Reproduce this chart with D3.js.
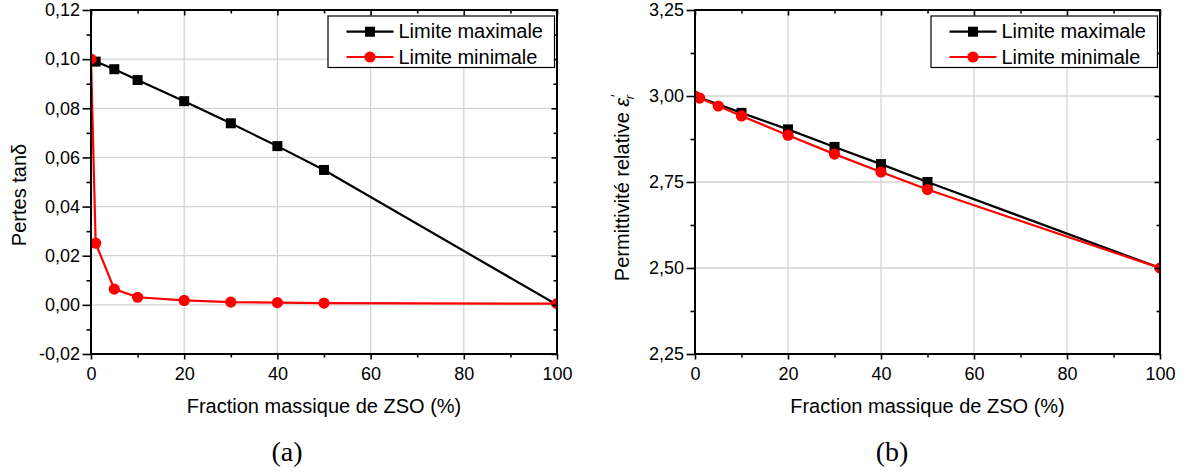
<!DOCTYPE html>
<html>
<head>
<meta charset="utf-8">
<script src="https://cdn.jsdelivr.net/npm/d3@7"></script>
<style>
  html, body { margin: 0; padding: 0; background: #fff; }
  svg { display: block; }
  text { font-family: "Liberation Sans", Arial, sans-serif; fill: #000; }
</style>
</head>
<body>
<svg id="chart" width="1188" height="473"></svg>
<script>
// ---- data ----
const xFrac = [0, 1, 5, 10, 20, 30, 40, 50, 100];
const tanMax = [0.100, 0.099, 0.0959, 0.0915, 0.0829, 0.0739, 0.0646, 0.0549, 0.000];
const tanMin = [0.100, 0.0251, 0.0064, 0.0031, 0.0018, 0.0011, 0.0009, 0.0007, 0.0005];
const epsMax = [3.000, 2.995, 2.976, 2.951, 2.903, 2.852, 2.802, 2.750, 2.500];
const epsMin = [3.000, 2.994, 2.971, 2.942, 2.886, 2.831, 2.779, 2.728, 2.500];

const xTicks = [0, 20, 40, 60, 80, 100];
const xMinor = [10, 30, 50, 70, 90];
const tanTicks = [-0.02, 0.00, 0.02, 0.04, 0.06, 0.08, 0.10, 0.12];
const tanMinor = [-0.01, 0.01, 0.03, 0.05, 0.07, 0.09, 0.11];
const epsTicks = [2.25, 2.50, 2.75, 3.00, 3.25];
const epsMinor = [2.375, 2.625, 2.875, 3.125];

const seriesNames = ["Limite maximale", "Limite minimale"];
const seriesColors = ["#000000", "#ff0000"];
const xTitle = "Fraction massique de ZSO (%)";
const panelLabels = ["(a)", "(b)"];

const fr = d3.formatLocale({decimal: ",", thousands: " ", grouping: [3], currency: ["", ""], minus: "-"});
const fmt2 = fr.format(".2f");

const svg = d3.select("#chart");

function drawPanel(opt) {
  const {left, right, top, bottom} = opt;
  const x = d3.scaleLinear().domain([0, 100]).range([left, right]);
  const y = d3.scaleLinear().domain(opt.yDomain).range([bottom, top]);
  const g = svg.append("g");

  // grid
  g.append("g").selectAll("line").data(xTicks.filter(v => v > 0 && v < 100)).join("line")
    .attr("x1", d => x(d)).attr("x2", d => x(d)).attr("y1", top).attr("y2", bottom)
    .attr("stroke", "#d4d4d4").attr("stroke-width", 1.3);
  g.append("g").selectAll("line").data(opt.yTicks.filter(v => v > opt.yDomain[0] + 1e-9 && v < opt.yDomain[1] - 1e-9)).join("line")
    .attr("y1", d => y(d)).attr("y2", d => y(d)).attr("x1", left).attr("x2", right)
    .attr("stroke", "#d4d4d4").attr("stroke-width", 1.3);

  // clip
  const cid = "clip" + opt.id;
  svg.append("clipPath").attr("id", cid).append("rect")
    .attr("x", left).attr("y", top).attr("width", right - left).attr("height", bottom - top);
  const plot = g.append("g").attr("clip-path", `url(#${cid})`);

  const line = d3.line().x((d, i) => x(xFrac[i])).y(d => y(d));

  // max series (black squares); markers hidden where the red point sits on top
  const maxPts = opt.maxVals.map((v, i) => ({x: xFrac[i], v, hidden: Math.abs(y(v) - y(opt.minVals[i])) < 2.5}));
  plot.append("path").datum(opt.maxVals).attr("d", line)
    .attr("fill", "none").attr("stroke", seriesColors[0]).attr("stroke-width", 2.2);
  plot.append("g").selectAll("rect").data(maxPts.filter(p => !p.hidden)).join("rect")
    .attr("x", p => x(p.x) - 5).attr("y", p => y(p.v) - 5)
    .attr("width", 10).attr("height", 10).attr("fill", seriesColors[0]);

  // min series (red circles)
  plot.append("path").datum(opt.minVals).attr("d", line)
    .attr("fill", "none").attr("stroke", seriesColors[1]).attr("stroke-width", 2.2);
  plot.append("g").selectAll("circle").data(opt.minVals).join("circle")
    .attr("cx", (d, i) => x(xFrac[i])).attr("cy", d => y(d))
    .attr("r", 5.6).attr("fill", seriesColors[1]);

  // axes
  const style = sel => { sel.select(".domain").remove(); sel.selectAll("line").attr("stroke-width", 1.6); };
  g.append("g").attr("transform", `translate(0,${bottom})`)
    .call(d3.axisBottom(x).tickValues(xTicks).tickSize(5.5).tickPadding(8).tickFormat(d3.format("d")))
    .call(style).selectAll("text").attr("font-size", 18).attr("font-family", "Liberation Sans, Arial, sans-serif");
  g.append("g").attr("transform", `translate(0,${bottom})`)
    .call(d3.axisBottom(x).tickValues(xMinor).tickSize(3.5).tickFormat(""))
    .call(style);
  g.append("g").attr("transform", `translate(0,${top})`)
    .call(d3.axisTop(x).tickValues(xTicks).tickSize(-5.5).tickFormat(""))
    .call(style);
  g.append("g").attr("transform", `translate(0,${top})`)
    .call(d3.axisTop(x).tickValues(xMinor).tickSize(-3.5).tickFormat(""))
    .call(style);

  g.append("g").attr("transform", `translate(${left},0)`)
    .call(d3.axisLeft(y).tickValues(opt.yTicks).tickSize(8.5).tickPadding(2.5).tickFormat(fmt2))
    .call(style).selectAll("text").attr("font-size", 18).attr("font-family", "Liberation Sans, Arial, sans-serif");
  g.append("g").attr("transform", `translate(${left},0)`)
    .call(d3.axisLeft(y).tickValues(opt.yMinor).tickSize(4.5).tickFormat(""))
    .call(style);
  g.append("g").attr("transform", `translate(${right},0)`)
    .call(d3.axisRight(y).tickValues(opt.yTicks).tickSize(-5.5).tickFormat(""))
    .call(style);
  g.append("g").attr("transform", `translate(${right},0)`)
    .call(d3.axisRight(y).tickValues(opt.yMinor).tickSize(-3.5).tickFormat(""))
    .call(style);

  // frame
  g.append("rect").attr("x", left).attr("y", top).attr("width", right - left).attr("height", bottom - top)
    .attr("fill", "none").attr("stroke", "#000").attr("stroke-width", 2);

  // x title
  g.append("text").attr("x", (left + right) / 2).attr("y", 413)
    .attr("text-anchor", "middle").attr("font-size", 20).text(xTitle);

  // y title
  const yt = g.append("text")
    .attr("transform", `translate(${opt.yTitleX},${opt.yTitleY}) rotate(-90)`)
    .attr("text-anchor", "middle").attr("font-size", 20);
  opt.yTitle(yt);

  // panel label
  g.append("text").attr("x", opt.labelX).attr("y", 461).attr("text-anchor", "middle")
    .attr("font-size", 28)
    .style("font-family", "'Liberation Serif', serif")
    .text(opt.label);

  // legend
  const lg = g.append("g");
  const lx0 = right - 229, ly0 = 16;
  lg.append("rect").attr("x", lx0).attr("y", ly0).attr("width", 226.5).attr("height", 51.5)
    .attr("fill", "#fff").attr("stroke", "#000").attr("stroke-width", 1.2);
  seriesNames.forEach((name, i) => {
    const cy = ly0 + 15.7 + i * 25.3;
    const x1 = lx0 + 18.5, x2 = lx0 + 65.5, xm = (x1 + x2) / 2;
    lg.append("line").attr("x1", x1).attr("x2", x2).attr("y1", cy).attr("y2", cy)
      .attr("stroke", seriesColors[i]).attr("stroke-width", 2.2);
    if (i === 0) {
      lg.append("rect").attr("x", xm - 5).attr("y", cy - 5).attr("width", 10).attr("height", 10).attr("fill", seriesColors[i]);
    } else {
      lg.append("circle").attr("cx", xm).attr("cy", cy).attr("r", 5.6).attr("fill", seriesColors[i]);
    }
    lg.append("text").attr("x", lx0 + 70.5).attr("y", cy + 6.5).attr("font-size", 20).text(name);
  });
}

drawPanel({
  id: "a", left: 91, right: 557, top: 10, bottom: 354,
  yDomain: [-0.02, 0.12], yTicks: tanTicks, yMinor: tanMinor,
  maxVals: tanMax, minVals: tanMin,
  yTitleX: 26, yTitleY: 195,
  yTitle: t => { t.text("Pertes tanδ"); },
  labelX: 287, label: panelLabels[0]
});

drawPanel({
  id: "b", left: 695, right: 1160, top: 10, bottom: 354,
  yDomain: [2.25, 3.25], yTicks: epsTicks, yMinor: epsMinor,
  maxVals: epsMax, minVals: epsMin,
  yTitleX: 629, yTitleY: 188,
  yTitle: t => {
    t.append("tspan").text("Permittivité relative ");
    t.append("tspan").attr("font-style", "italic").text("ε");
    t.append("tspan").attr("font-style", "italic").attr("font-size", 14).attr("dy", -8).text("′");
    t.append("tspan").attr("font-style", "italic").attr("font-size", 13).attr("dx", -4).attr("dy", 13).text("r");
  },
  labelX: 892, label: panelLabels[1]
});
</script>
</body>
</html>
